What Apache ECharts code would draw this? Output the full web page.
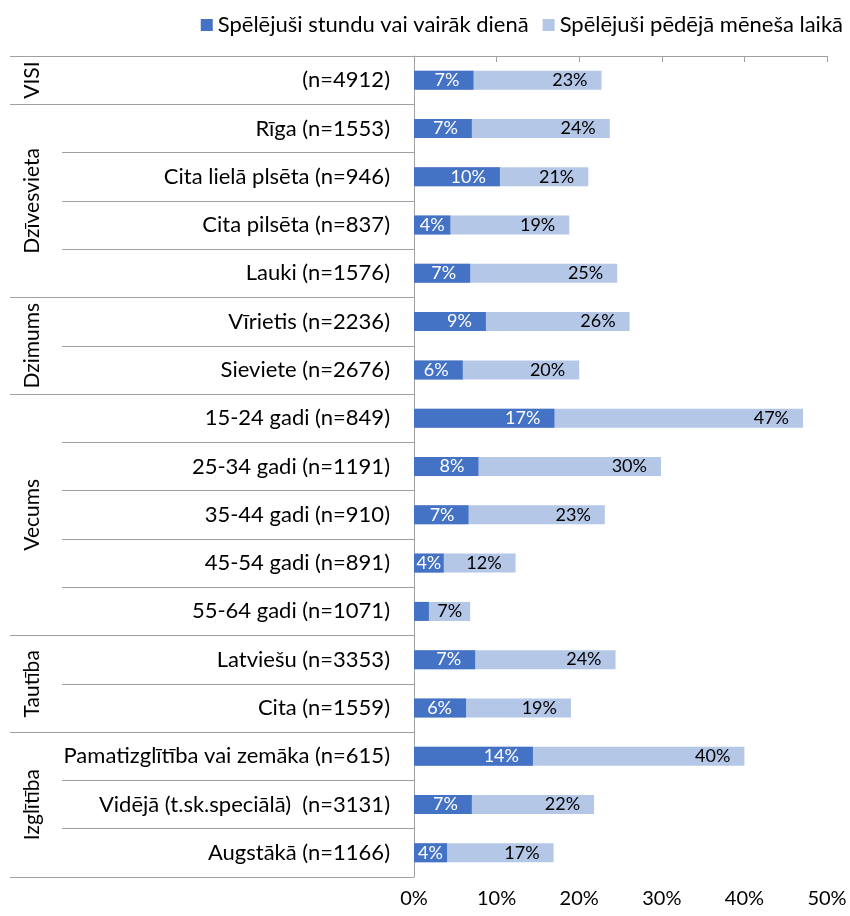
<!DOCTYPE html>
<html><head><meta charset="utf-8">
<script src="https://cdn.jsdelivr.net/npm/echarts@6/dist/echarts.min.js"></script>
<style>html,body{margin:0;padding:0;background:#fff}#c{width:850px;height:916px}</style>
</head><body><div id="c"></div>
<script>
const categories = ['(n=4912)','Rīga (n=1553)','Cita lielā plsēta (n=946)','Cita pilsēta (n=837)','Lauki (n=1576)','Vīrietis (n=2236)','Sieviete (n=2676)','15-24 gadi (n=849)','25-34 gadi (n=1191)','35-44 gadi (n=910)','45-54 gadi (n=891)','55-64 gadi (n=1071)','Latviešu (n=3353)','Cita (n=1559)','Pamatizglītība vai zemāka (n=615)','Vidējā (t.sk.speciālā)  (n=3131)','Augstākā (n=1166)'];
const dailyHour = [7.2,7.0,10.4,4.4,6.8,8.7,5.9,17.0,7.8,6.6,3.6,1.8,7.4,6.3,14.4,7.0,4.0];
const lastMonth = [22.7,23.7,21.1,18.8,24.6,26.1,20.0,47.1,29.9,23.1,12.3,6.8,24.4,19.0,40.0,21.8,16.9];
const groupNames = ['VISI','Dzīvesvieta','Dzimums','Vecums','Tautība','Izglītība'];
const groupSizes = [1,4,2,5,2,3];
const seriesNames = ['Spēlējuši stundu vai vairāk dienā','Spēlējuši pēdējā mēneša laikā'];
const xMin = 0, xMax = 50, xStep = 10;

const FONT = 'Lato';
const GRAY = '#a0a0a0';
const DARK = '#4472C4', LIGHT = '#B4C7E7';

const bounds = [0];
groupSizes.forEach(s => bounds.push(bounds[bounds.length - 1] + s));
const centers = groupSizes.map((s, i) => bounds[i] + s / 2);

const darkData = dailyHour.map(v => ({
  value: v,
  label: v < 2.5 ? { show: false } : (v < 5 ? { position: 'inside' } : { position: 'insideRight', distance: 14 })
}));
const lightData = lastMonth.map((v, i) => ({
  value: v,
  label: { position: 'insideRight', distance: (v - dailyHour[i] < 7) ? 8 : 14 }
}));

const chart = echarts.init(document.getElementById('c'), null, { renderer: 'canvas' });
chart.setOption({
  animation: false,
  textStyle: { fontFamily: FONT },
  legend: {
    data: seriesNames,
    right: 2, top: 9,
    itemWidth: 12, itemHeight: 12, itemGap: 14,
    icon: 'rect',
    textStyle: { fontFamily: FONT, fontSize: 22, color: '#000' }
  },
  grid: { left: 414, right: 23, top: 56, bottom: 39, containLabel: false, outerBoundsMode: 'none' },
  xAxis: {
    type: 'value', min: xMin, max: xMax, interval: xStep,
    axisLine: { show: true, lineStyle: { color: GRAY } },
    axisTick: { show: true, length: 6, lineStyle: { color: GRAY } },
    splitLine: { show: false },
    axisLabel: { formatter: '{value}%', margin: 12, fontFamily: FONT, fontSize: 20, color: '#000' }
  },
  yAxis: [
    {
      type: 'category', data: categories, inverse: true,
      axisLine: { show: true, lineStyle: { color: GRAY } },
      axisTick: { show: true, length: 352, lineStyle: { color: GRAY } },
      axisLabel: { margin: 24, fontFamily: FONT, fontSize: 22, color: '#000' }
    },
    {
      type: 'value', min: 0, max: categories.length, inverse: true,
      position: 'left', offset: 352,
      splitLine: { show: false },
      axisLine: { show: false },
      axisTick: { show: true, customValues: bounds, length: 52, lineStyle: { color: GRAY } },
      axisLabel: {
        customValues: centers,
        formatter: v => { const i = centers.findIndex(c => Math.abs(c - v) < 1e-6); return i >= 0 ? groupNames[i] : ''; },
        rotate: 90, margin: 19, fontFamily: FONT, fontSize: 21, color: '#000'
      }
    }
  ],
  series: [
    {
      name: seriesNames[1], type: 'bar', yAxisIndex: 0, data: lightData,
      barWidth: 19, barGap: '-100%',
      itemStyle: { color: LIGHT },
      label: { show: true, formatter: p => Math.round(p.value) + '%', color: '#000', fontFamily: FONT, fontSize: 18 }
    },
    {
      name: seriesNames[0], type: 'bar', yAxisIndex: 0, data: darkData,
      barWidth: 19, barGap: '-100%',
      itemStyle: { color: DARK },
      label: { show: true, formatter: p => Math.round(p.value) + '%', color: '#fff', fontFamily: FONT, fontSize: 18 }
    }
  ]
});
</script></body></html>
